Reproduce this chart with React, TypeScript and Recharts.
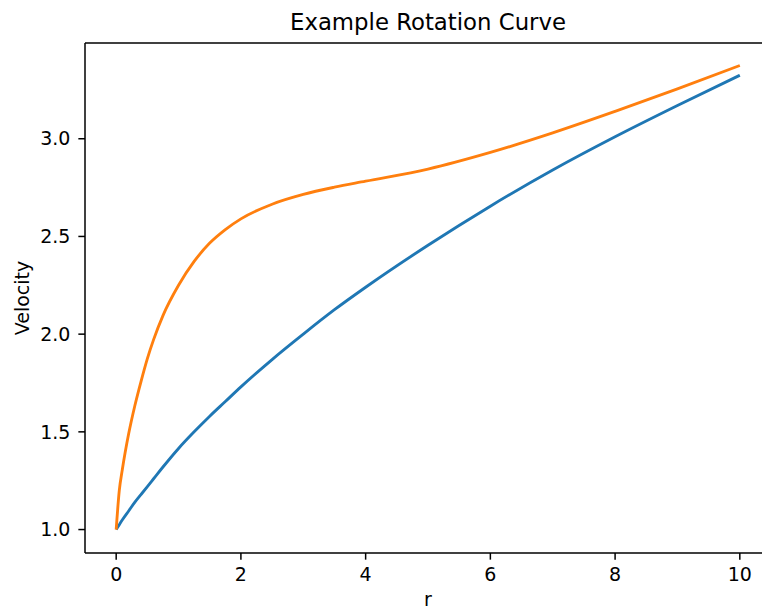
import React from "react";
import { LineChart, Line, XAxis, YAxis, ReferenceLine } from "recharts";

const rValues = [0, 0.05, 0.1, 0.2, 0.3, 0.4, 0.5, 0.6, 0.75, 1, 1.25, 1.5, 1.75, 2, 2.5, 3, 3.5, 4, 5, 6, 7, 8, 9, 10];
const blueValues = [1.0, 1.025, 1.05, 1.095, 1.14, 1.18, 1.22, 1.26, 1.32, 1.415, 1.5, 1.58, 1.655, 1.73, 1.87, 2.0, 2.125, 2.24, 2.455, 2.655, 2.84, 3.01, 3.17, 3.325];
const orangeValues = [1.0, 1.2, 1.31, 1.49, 1.635, 1.76, 1.875, 1.972, 2.095, 2.25, 2.372, 2.466, 2.535, 2.59, 2.665, 2.715, 2.752, 2.783, 2.845, 2.93, 3.03, 3.14, 3.255, 3.375];
const xTicks = [0, 2, 4, 6, 8, 10];
const yTicks = [1.0, 1.5, 2.0, 2.5, 3.0];
const xDomain: [number, number] = [-0.5, 10.5];
const yDomain: [number, number] = [0.88, 3.49];

const title = "Example Rotation Curve";
const xLabel = "r";
const yLabel = "Velocity";

const data = rValues.map((r, i) => ({ r, blue: blueValues[i], orange: orangeValues[i] }));

const FONT = "'DejaVu Sans', sans-serif";
const tickStyle = { fill: "#000", fontSize: 19, fontFamily: FONT };
const lineStyle = { stroke: "#000", strokeWidth: 1.5 };

export default function App() {
  return (
    <div style={{ position: "absolute", left: 0, top: 0, width: 762, height: 610, overflow: "hidden", background: "#fff" }}>
      <LineChart width={790} height={610} data={data} margin={{ top: 43, right: 19, bottom: 0, left: 0 }}>
        <XAxis
          dataKey="r"
          type="number"
          domain={xDomain}
          ticks={xTicks}
          allowDataOverflow
          height={57}
          tickSize={6.65}
          tickMargin={8}
          tick={tickStyle}
          axisLine={lineStyle}
          tickLine={lineStyle}
        />
        <YAxis
          type="number"
          domain={yDomain}
          ticks={yTicks}
          allowDataOverflow
          width={85}
          tickSize={6.65}
          tickMargin={8}
          tick={tickStyle}
          tickFormatter={(v: number) => v.toFixed(1)}
          axisLine={lineStyle}
          tickLine={lineStyle}
        />
        <ReferenceLine y={yDomain[1]} stroke="#000" strokeWidth={1.5} ifOverflow="extendDomain" />
        <Line dataKey="blue" type="monotone" stroke="#1f77b4" strokeWidth={2.85} dot={false} isAnimationActive={false} />
        <Line dataKey="orange" type="monotone" stroke="#ff7f0e" strokeWidth={2.85} dot={false} isAnimationActive={false} />
      </LineChart>
      <svg width={762} height={610} style={{ position: "absolute", left: 0, top: 0, pointerEvents: "none" }}>
        <text x={428} y={30} textAnchor="middle" fontSize={22.8} fontFamily={FONT} fill="#000">{title}</text>
        <text x={428} y={606} textAnchor="middle" fontSize={19} fontFamily={FONT} fill="#000">{xLabel}</text>
        <text x={28.5} y={298} textAnchor="middle" fontSize={19} fontFamily={FONT} fill="#000" transform="rotate(-90 28.5 298)">{yLabel}</text>
      </svg>
    </div>
  );
}
